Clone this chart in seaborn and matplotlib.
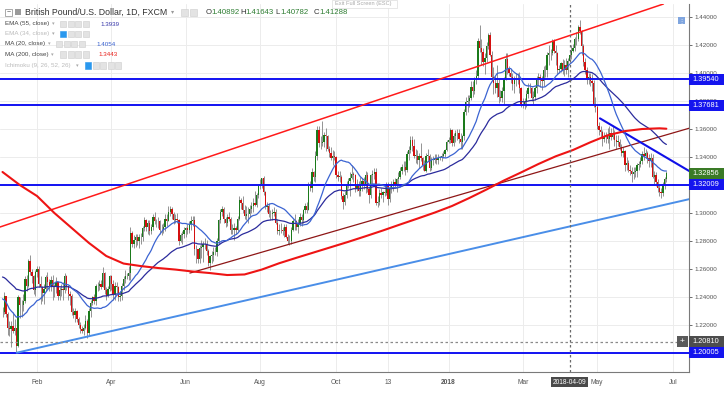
import numpy as np
import pandas as pd
import matplotlib
matplotlib.use("Agg")
import matplotlib.pyplot as plt
import matplotlib.transforms as mtransforms
from matplotlib.patches import Rectangle
from matplotlib.ticker import FuncFormatter
import seaborn as sns

# ---------------- data (prices in pips, 1 pip = 0.0001) ----------------
# closes before the window, only used to warm up MA(20) / EMA(55)
warmup_close = [12740, 12690, 12620, 12570, 12560, 12680, 12650, 12490, 12410, 12490, 12380,
                12330, 12350, 12270, 12280, 12270, 12270, 12230, 12290, 12340, 12290, 12290]

first_day = '2017-01-04'

close_pips = [
    12290, 12410, 12280, 12180, 12170, 12190, 12160, 12180, 12050, 12400, 12340, 12340, 12370, 12530, 12480, 12660, 12580, 12550, 12450, 12580,  # jan 17
    12600, 12490, 12470, 12430, 12460, 12540, 12510, 12480, 12520, 12470, 12470, 12510, 12410, 12450, 12460, 12450, 12550, 12480, 12420, 12410,  # feb
    12290, 12270, 12300, 12240, 12200, 12170, 12160, 12180, 12230, 12140, 12300, 12360, 12400, 12370, 12480, 12480, 12490, 12470, 12570, 12450, 12410, 12460, 12550,  # mar
    12490, 12420, 12480, 12470, 12400, 12410, 12480, 12530, 12550, 12550, 12570, 12860, 12780, 12810, 12830, 12800, 12830, 12830, 12890, 12950,  # apr
    12900, 12930, 12870, 12900, 12970, 12940, 12940, 12940, 12880, 12880, 12900, 12960, 12940, 13010, 13030, 12990, 12950, 12960, 12950, 12800, 12840, 12850, 12880,  # may
    12890, 12880, 12920, 12940, 12950, 12740, 12740, 12670, 12750, 12760, 12780, 12780, 12730, 12640, 12690, 12700, 12720, 12720, 12800, 12950, 13010, 13030,  # jun
    12960, 12930, 12970, 12960, 12880, 12880, 12890, 12880, 12960, 13090, 13070, 13020, 12980, 12990, 12990, 13030, 13050, 13070, 13060, 13130, 13200,  # jul
    13210, 13250, 13150, 13040, 13050, 12990, 12990, 13000, 13010, 12930, 12870, 12880, 12880, 12870, 12900, 12830, 12800, 12800, 12880, 12940, 12940, 12900, 12930,  # aug
    12970, 12950, 13020, 13050, 13020, 13200, 13180, 13290, 13260, 13410, 13590, 13500, 13500, 13510, 13560, 13550, 13460, 13430, 13390, 13410, 13400,  # sep
    13270, 13260, 13260, 13120, 13080, 13130, 13200, 13230, 13250, 13280, 13270, 13180, 13190, 13160, 13210, 13230, 13210, 13270, 13170, 13130, 13270, 13280,  # oct
    13290, 13070, 13080, 13140, 13130, 13150, 13140, 13190, 13100, 13170, 13190, 13220, 13200, 13240, 13260, 13300, 13330, 13330, 13310, 13420, 13450, 13520,  # nov
    13480, 13410, 13410, 13380, 13410, 13390, 13340, 13300, 13410, 13410, 13320, 13380, 13380, 13390, 13380, 13390, 13400, 13410, 13420, 13450, 13510,  # dec
    13520, 13590, 13500, 13550, 13570, 13570, 13530, 13510, 13550, 13720, 13790, 13800, 13820, 13900, 13870, 13950, 13980, 14230, 14180, 14150, 14080, 14110, 14190,  # jan 18
    14270, 14130, 13970, 13930, 13890, 13930, 13830, 13820, 13870, 13960, 14100, 14030, 14000, 13970, 13920, 13960, 13960, 13950, 13890, 13780,  # feb
    13770, 13790, 13850, 13890, 13890, 13820, 13830, 13890, 13950, 13970, 13950, 13940, 14020, 14020, 14130, 14140, 14140, 14230, 14160, 14140, 14020, 14030,  # mar
    14070, 14020, 14060, 14020, 14089, 14129, 14160, 14180, 14240, 14240, 14330, 14300, 14190, 14080, 14020, 13960, 13970, 13940, 13930, 13780, 13760,  # apr
    13620, 13590, 13580, 13530, 13550, 13560, 13530, 13570, 13540, 13570, 13520, 13510, 13510, 13470, 13430, 13440, 13340, 13360, 13310, 13300, 13280, 13290, 13300,  # may
    13340, 13350, 13370, 13420, 13410, 13430, 13390, 13370, 13390, 13260, 13270, 13220, 13180, 13150, 13140, 13200, 13240, 13286,  # jun
]

high_pips = [
    12330, 12433, 12410, 12290, 12230, 12230, 12290, 12240, 12180, 12415, 12370, 12380, 12420, 12550, 12560, 12670, 12700, 12600, 12560, 12590,
    12620, 12620, 12550, 12480, 12490, 12560, 12580, 12530, 12550, 12560, 12490, 12540, 12510, 12470, 12490, 12510, 12570, 12560, 12480, 12440,
    12420, 12320, 12320, 12310, 12260, 12220, 12190, 12210, 12270, 12240, 12320, 12380, 12410, 12420, 12490, 12510, 12520, 12520, 12615, 12580, 12470, 12480, 12560,
    12560, 12520, 12510, 12510, 12480, 12440, 12500, 12550, 12590, 12570, 12620, 12900, 12870, 12840, 12850, 12850, 12850, 12860, 12910, 12970,
    12960, 12950, 12950, 12920, 12990, 13010, 12960, 12970, 12950, 12920, 12930, 12990, 12990, 13048, 13050, 13040, 13010, 12990, 13000, 12960, 12860, 12870, 12900,
    12900, 12920, 12940, 12980, 12980, 12980, 12770, 12740, 12770, 12810, 12800, 12820, 12810, 12740, 12700, 12730, 12760, 12760, 12820, 12960, 13030, 13050,
    13040, 12970, 12990, 13010, 12970, 12920, 12930, 12910, 12980, 13120, 13110, 13125, 13060, 13050, 13040, 13060, 13080, 13110, 13160, 13140, 13210,
    13240, 13250, 13267, 13160, 13080, 13070, 13020, 13030, 13040, 13030, 12960, 12920, 12930, 12900, 12920, 12920, 12850, 12840, 12900, 12960, 12990, 12950, 12960,
    13000, 12990, 13030, 13070, 13080, 13220, 13230, 13320, 13300, 13440, 13620, 13620, 13550, 13657, 13580, 13610, 13560, 13480, 13470, 13450, 13440,
    13410, 13300, 13300, 13270, 13140, 13160, 13230, 13250, 13290, 13340, 13290, 13280, 13240, 13230, 13260, 13250, 13260, 13300, 13290, 13190, 13280, 13310,
    13320, 13320, 13120, 13170, 13180, 13160, 13200, 13220, 13220, 13200, 13230, 13240, 13250, 13250, 13290, 13330, 13350, 13370, 13370, 13440, 13480, 13549,
    13550, 13530, 13460, 13450, 13430, 13500, 13400, 13380, 13430, 13460, 13420, 13400, 13410, 13420, 13420, 13420, 13410, 13430, 13440, 13460, 13520,
    13540, 13610, 13600, 13570, 13590, 13600, 13600, 13570, 13560, 13740, 13830, 13840, 13840, 13940, 13940, 13970, 14020, 14250, 14345, 14240, 14180, 14140, 14220,
    14286, 14290, 14160, 14040, 13980, 14060, 13960, 13880, 13900, 13970, 14140, 14140, 14050, 14030, 14000, 13980, 14000, 14000, 14010, 13900,
    13820, 13820, 13880, 13930, 13930, 13900, 13870, 13910, 13980, 14000, 13990, 13980, 14050, 14060, 14150, 14200, 14170, 14240, 14245, 14200, 14150, 14060,
    14080, 14100, 14090, 14110, 14110, 14164, 14200, 14210, 14260, 14290, 14340, 14377, 14310, 14210, 14110, 14040, 14000, 14000, 13990, 13950, 13830,
    13770, 13650, 13620, 13590, 13580, 13580, 13610, 13620, 13610, 13620, 13590, 13560, 13560, 13530, 13490, 13470, 13450, 13400, 13380, 13340, 13330, 13330, 13330,
    13360, 13370, 13400, 13440, 13470, 13460, 13440, 13420, 13430, 13420, 13300, 13290, 13240, 13200, 13180, 13220, 13260, 13300,
]

low_pips = [
    12260, 12280, 12260, 12130, 12120, 12040, 12140, 12130, 12000, 12040, 12250, 12260, 12300, 12360, 12440, 12470, 12560, 12500, 12420, 12410,
    12540, 12470, 12350, 12370, 12350, 12440, 12460, 12440, 12440, 12380, 12400, 12430, 12380, 12380, 12410, 12380, 12430, 12450, 12380, 12340,
    12270, 12250, 12220, 12220, 12180, 12140, 12140, 12130, 12170, 12110, 12120, 12260, 12340, 12350, 12340, 12440, 12450, 12460, 12470, 12420, 12380, 12400, 12440,
    12450, 12380, 12380, 12430, 12370, 12370, 12380, 12450, 12500, 12530, 12520, 12520, 12760, 12750, 12760, 12770, 12750, 12780, 12800, 12870,
    12870, 12850, 12840, 12850, 12880, 12920, 12900, 12890, 12850, 12840, 12860, 12870, 12910, 12940, 12980, 12960, 12920, 12930, 12930, 12770, 12790, 12780, 12820,
    12830, 12850, 12860, 12880, 12910, 12700, 12640, 12640, 12640, 12680, 12650, 12740, 12700, 12620, 12590, 12640, 12660, 12700, 12690, 12780, 12930, 12980,
    12930, 12900, 12910, 12940, 12850, 12850, 12810, 12850, 12870, 12950, 13030, 13000, 12960, 12950, 12930, 12970, 13000, 13010, 13050, 13040, 13110,
    13170, 13180, 13130, 13030, 13010, 12970, 12950, 12950, 12980, 12920, 12850, 12840, 12860, 12840, 12830, 12820, 12780, 12774, 12780, 12870, 12880, 12880, 12860,
    12910, 12910, 12930, 13000, 13000, 13030, 13160, 13150, 13230, 13220, 13380, 13470, 13460, 13480, 13470, 13440, 13440, 13400, 13380, 13340, 13380,
    13250, 13230, 13220, 13100, 13027, 13060, 13110, 13180, 13120, 13240, 13220, 13150, 13160, 13120, 13120, 13160, 13170, 13140, 13150, 13070, 13110, 13210,
    13240, 13060, 13040, 13060, 13110, 13080, 13120, 13130, 13060, 13080, 13140, 13160, 13180, 13150, 13200, 13240, 13280, 13300, 13270, 13290, 13380, 13430,
    13440, 13390, 13360, 13350, 13320, 13370, 13310, 13300, 13290, 13370, 13300, 13310, 13340, 13360, 13350, 13350, 13380, 13370, 13390, 13400, 13440,
    13500, 13500, 13480, 13480, 13510, 13520, 13500, 13460, 13460, 13520, 13700, 13720, 13760, 13810, 13830, 13850, 13920, 13960, 14150, 14060, 14050, 13990, 14080,
    14170, 14120, 13950, 13850, 13860, 13830, 13786, 13800, 13790, 13780, 13950, 13990, 13980, 13930, 13880, 13860, 13910, 13920, 13860, 13760,
    13750, 13740, 13760, 13820, 13860, 13800, 13780, 13810, 13860, 13910, 13900, 13880, 13910, 13970, 13970, 14060, 14090, 14130, 14140, 14060, 13990, 14000,
    14010, 13990, 13980, 13990, 13970, 14078, 14100, 14150, 14160, 14200, 14230, 14280, 14130, 14050, 13990, 13920, 13920, 13910, 13870, 13760, 13720,
    13600, 13560, 13540, 13480, 13510, 13500, 13500, 13460, 13520, 13530, 13480, 13460, 13480, 13450, 13410, 13400, 13300, 13310, 13290, 13270, 13221, 13240, 13260,
    13260, 13310, 13330, 13350, 13380, 13390, 13360, 13330, 13330, 13250, 13210, 13190, 13150, 13120, 13107, 13120, 13170, 13220,
]

# MA(200) (bar number, value)
ma200_idx = [0, 10, 20, 30, 40, 50, 60, 70, 80, 90, 100, 110, 120, 130, 140, 150, 160, 170, 180, 190,
             200, 210, 220, 230, 240, 250, 260, 270, 280, 290, 300, 310, 320, 330, 340, 350, 360, 370, 380, 384]
ma200_val = [1.3293, 1.3200, 1.3121, 1.3000, 1.2893, 1.2786, 1.2693, 1.2639, 1.2621, 1.2607, 1.2596, 1.2582,
             1.2571, 1.2557, 1.2561, 1.2596, 1.2641, 1.2680, 1.2718, 1.2756, 1.2794, 1.2834, 1.2875, 1.2918,
             1.2960, 1.3003, 1.3050, 1.3107, 1.3168, 1.3232, 1.3290, 1.3350, 1.3405, 1.3450, 1.3505, 1.3555,
             1.3585, 1.3600, 1.3605, 1.3602]

# horizontal levels and drawn trend lines (bar number, price)
levels = [1.39540, 1.37681, 1.32009, 1.20005]
last_price = 1.32856
cross_price = 1.20810
cross_date = '2018-04-09'
channel_top = ([0, 384], [1.2906, 1.4500])
channel_mid = ([108.4, 397.6], [1.2571, 1.3607])
support = ([8.2, 397.6], [1.2002, 1.3100])
down_line = ([345.6, 397.6], [1.3676, 1.3297])

tick_labels = ['Feb', 'Apr', 'Jun', 'Aug', 'Oct', '13', '2018', 'Mar', 'May', 'Jul']
tick_dates = ['2017-02-01', '2017-04-03', '2017-06-01', '2017-08-01', '2017-10-02',
              '2017-11-13', '2018-01-01', '2018-03-01', '2018-05-01', '2018-07-02']

legend_rows = ['EMA (55, close)', 'EMA (34, close)', 'MA (20, close)', 'MA (200, close)', 'Ichimoku (9, 26, 52, 26)']
ohlc = [('O', '1.40892'), ('H', '1.41643'), ('L', '1.40782'), ('C', '1.41288')]

# ---------------- prep ----------------
close = np.array(close_pips) / 1e4
high = np.array(high_pips) / 1e4
low = np.array(low_pips) / 1e4
open_ = np.r_[warmup_close[-1] / 1e4, close[:-1]]
high = np.maximum.reduce([high, open_, close])
low = np.minimum.reduce([low, open_, close])
idx = np.arange(len(close))

full = pd.Series(np.r_[np.array(warmup_close) / 1e4, close])
ma20 = full.rolling(20).mean().values[len(warmup_close):]
ema55 = full.ewm(span=55, adjust=False).mean().values[len(warmup_close):]

cal = pd.bdate_range(first_day, periods=420)
tick_pos = cal.get_indexer(pd.to_datetime(tick_dates))
cross_x = cal.get_indexer(pd.to_datetime([cross_date]))[0]

# ---------------- plot ----------------
sns.set_style("white")
plt.rcParams['font.family'] = ['Liberation Sans', 'DejaVu Sans']

W, H = 725, 393
fig = plt.figure(figsize=(W / 100, H / 100), dpi=100)
# plot pane: x 0..689 px, y 4..372 px, 1400 px per 1.0 of price
ax = fig.add_axes([0, 21 / H, 689 / W, 368 / H])
ax.set_xlim(-1.45, 397.1)
ax.set_ylim(1.18643, 1.44929)

ax.set_axisbelow(True)
ax.grid(True, color='#ececec', lw=0.7)

# candles
up = close >= open_
ax.vlines(idx, low, high, color='#8c8c8c', lw=0.65, zorder=3)
ax.bar(idx, np.maximum(np.abs(close - open_), 0.00015), bottom=np.minimum(open_, close),
       width=0.78, color=np.where(up, '#1b7a1b', '#d41010'), lw=0, zorder=4)

# levels
for lv in levels:
    ax.axhline(lv, color='#1212f2', lw=1.4, zorder=5)

# trend lines
ax.axline((channel_top[0][0], channel_top[1][0]), (channel_top[0][1], channel_top[1][1]),
          color='#ff1a1a', lw=1.1, zorder=5)
sns.lineplot(x=channel_mid[0], y=channel_mid[1], ax=ax, color='#8e1616', lw=0.9, zorder=5)
sns.lineplot(x=support[0], y=support[1], ax=ax, color='#4a8ee8', lw=1.4, zorder=5)
sns.lineplot(x=down_line[0], y=down_line[1], ax=ax, color='#1010e8', lw=1.5, zorder=6)

# moving averages
sns.lineplot(x=idx, y=ema55, ax=ax, color='#2b2b9c', lw=0.9, zorder=6)
sns.lineplot(x=idx, y=ma20, ax=ax, color='#3b64d2', lw=0.9, zorder=6)
sns.lineplot(x=ma200_idx, y=ma200_val, ax=ax, color='#ee1414', lw=1.5, zorder=6)

# crosshair
ax.axhline(cross_price, color='#8a8a8a', lw=0.9, ls=(0, (2, 2)), zorder=7)
ax.axvline(cross_x, color='#6a6a6a', lw=0.9, ls=(0, (2, 2)), zorder=7)

# axes cosmetics
for s in ['left', 'top']:
    ax.spines[s].set_visible(False)
for s in ['right', 'bottom']:
    ax.spines[s].set_color('#7a7a7a')
    ax.spines[s].set_linewidth(0.8)
ax.yaxis.tick_right()
yt = np.round(np.arange(1.20, 1.4401, 0.02), 2)
ax.set_yticks(yt)
# labels hidden under the price boxes are left blank
covered = [round(lv, 2) for lv in levels + [cross_price] if abs(lv - round(lv, 2)) < 0.001]
ax.yaxis.set_major_formatter(FuncFormatter(
    lambda v, p: '' if round(v, 2) in covered else f'{v:.5f}'))
ax.tick_params(axis='y', labelsize=4.5, colors='#555555', length=2, pad=2, width=0.6)
ax.set_xticks(tick_pos)
ax.set_xticklabels(tick_labels)
ax.tick_params(axis='x', labelsize=4.8, colors='#555555', length=2, pad=3, width=0.6)
for lbl in ax.get_xticklabels():
    if lbl.get_text() == '2018':
        lbl.set_fontweight('bold')
ax.set_xlabel('')
ax.set_ylabel('')

xb = mtransforms.blended_transform_factory(ax.transData, ax.transAxes)
ax.text(cross_x, -0.028, cross_date, transform=xb, ha='center', va='center', fontsize=4.8,
        color='white', zorder=10, clip_on=False,
        bbox=dict(boxstyle='square,pad=0.25', fc='#4a4a4a', ec='none'))

# price boxes on the right scale
yb = mtransforms.blended_transform_factory(fig.transFigure, ax.transData)
bh = 11 / 1400


def price_box(p, fc, x0=689, x1=724):
    fig.add_artist(Rectangle((x0 / W, p - bh / 2), (x1 - x0) / W, bh, transform=yb,
                             fc=fc, ec='none', zorder=5))
    fig.text(692.5 / W, p, f'{p:.5f}', transform=yb, ha='left', va='center',
             fontsize=5.3, color='white', zorder=6)


for lv in levels:
    price_box(lv, '#1414ee')
price_box(last_price, '#3a7a26')
price_box(cross_price, '#4d4d4d')
fig.add_artist(Rectangle((677 / W, cross_price - bh / 2), 11 / W, bh, transform=yb,
                         fc='#5a5a5a', ec='none', zorder=5))
fig.text(682.5 / W, cross_price, '+', transform=yb, ha='center', va='center',
         fontsize=6, color='white', zorder=6)


# ---------------- legend block (top left) ----------------
def px(x):
    return x / W


def py(y):
    return 1 - y / H


def icon(x, y, fc='#e3e3e3', ec='#cdcdcd', s=6):
    fig.add_artist(Rectangle((px(x), py(y + s / 2)), s / W, s / H, transform=fig.transFigure,
                             fc=fc, ec=ec, lw=0.4, zorder=8))


fig.add_artist(Rectangle((px(5), py(15.5)), 7 / W, 7 / H, transform=fig.transFigure,
                         fc='white', ec='#888888', lw=0.5, zorder=8))
fig.text(px(8.5), py(12), '−', fontsize=5, color='#666666', ha='center', va='center', zorder=9)
fig.add_artist(Rectangle((px(15), py(15)), 6 / W, 6 / H, transform=fig.transFigure,
                         fc='#9a9a9a', ec='none', zorder=8))
fig.text(px(25), py(12), 'British Pound/U.S. Dollar, 1D, FXCM', fontsize=6.3, color='#333333',
         va='center', zorder=9)
fig.text(px(171), py(12), '▾', fontsize=4.5, color='#999999', va='center', zorder=9)
icon(181, 12, s=7)
icon(190, 12, s=7)
ox = [206, 240, 275, 314]
for (k, v), x in zip(ohlc, ox):
    fig.text(px(x), py(12), k, fontsize=5.6, color='#333333', va='center', zorder=9)
    fig.text(px(x + 5.5), py(12), v, fontsize=5.6, color='#2e7d32', va='center', zorder=9)

row_y = [24, 34, 44, 54.5, 65.5]
row_txt_col = ['#444444', '#bbbbbb', '#444444', '#444444', '#bbbbbb']
row_arrow_x = [52, 52, 48, 51, 76]
row_icon_x = [60, 60, 56, 60, 85]
row_icon_n = [4, 4, 4, 4, 5]
row_blue = [False, True, False, False, True]
row_val = ['1.3939', None, '1.4054', '1.3443', None]
row_val_x = [100, None, 96, 98, None]
row_val_col = ['#3434a8', None, '#3a62d0', '#e8201a', None]
for i, name in enumerate(legend_rows):
    y = row_y[i]
    fig.text(px(5), py(y), name, fontsize=4.5, color=row_txt_col[i], va='center', zorder=9)
    fig.text(px(row_arrow_x[i]), py(y), '▾', fontsize=3.8, color='#aaaaaa', va='center', zorder=9)
    for j in range(row_icon_n[i]):
        if row_blue[i] and j == 0:
            icon(row_icon_x[i] + 7.5 * j, y, fc='#2a98ee', ec='#2a98ee')
        else:
            icon(row_icon_x[i] + 7.5 * j, y)
    if row_val[i]:
        fig.text(px(row_val_x[i]), py(y), row_val[i], fontsize=4.5, color=row_val_col[i],
                 va='center', zorder=9)

# tooltip and top-right button
fig.add_artist(Rectangle((px(332), py(7.5)), 65 / W, 8 / H, transform=fig.transFigure,
                         fc='white', ec='#dddddd', lw=0.5, zorder=8))
fig.text(px(335), py(3.6), 'Exit Full Screen (ESC)', fontsize=4.1, color='#aaaaaa', va='center', zorder=9)
fig.add_artist(Rectangle((px(678), py(24)), 7 / W, 7 / H, transform=fig.transFigure,
                         fc='#7fa5df', ec='none', zorder=8))
fig.text(px(681.5), py(20.5), '⋮', fontsize=4.5, color='white', ha='center', va='center', zorder=9)

fig.savefig('out.png', dpi=100)
